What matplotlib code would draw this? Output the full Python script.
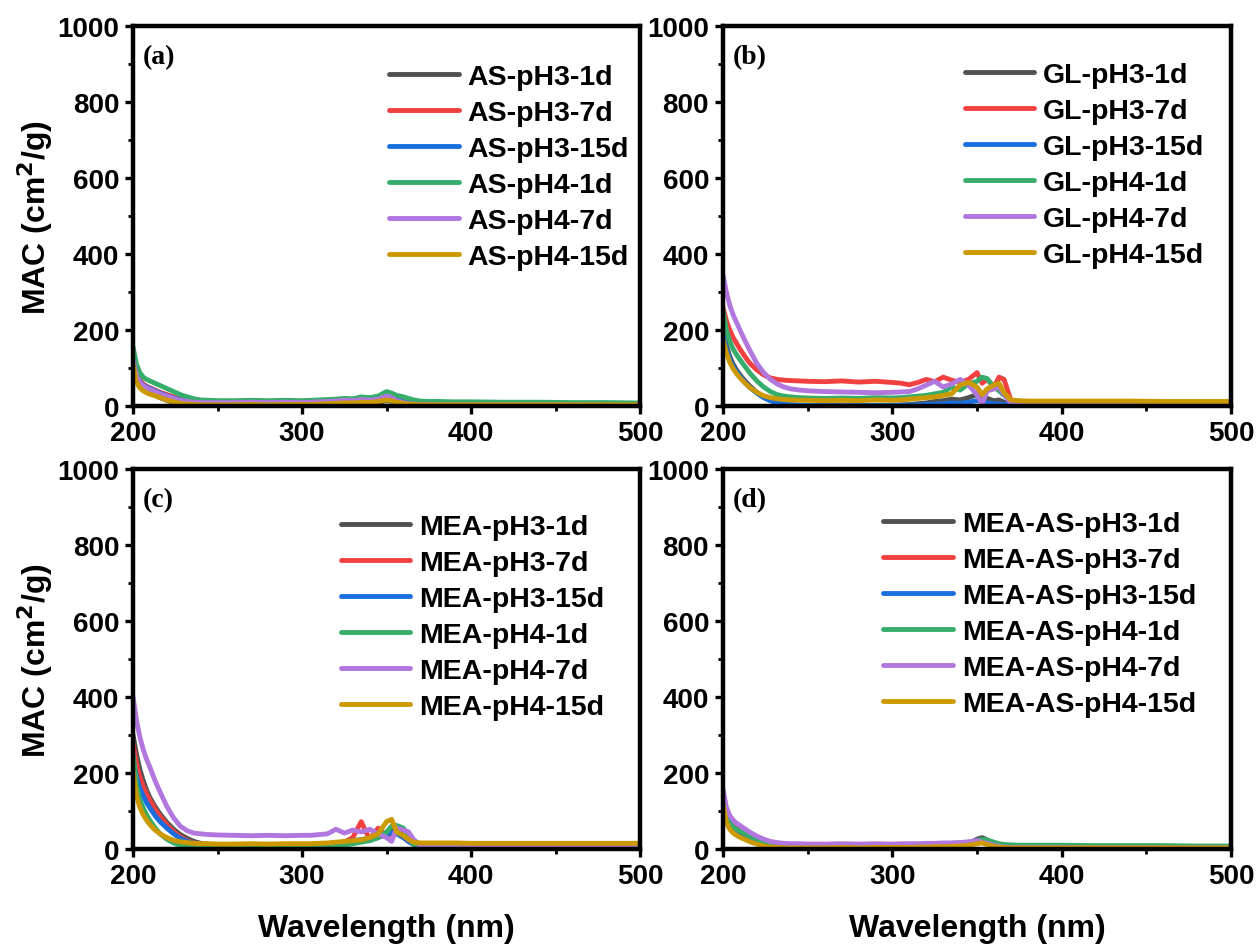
import numpy as np
import matplotlib
matplotlib.use('Agg')
import matplotlib.pyplot as plt
from matplotlib.ticker import MultipleLocator

plt.rcParams['font.family'] = ['Liberation Sans', 'DejaVu Sans']
plt.rcParams['font.weight'] = 'bold'
plt.rcParams['mathtext.default'] = 'bf'

# wavelength grid (nm)
wl = [200, 202, 204, 206, 208, 210, 213, 216, 220, 224, 228, 232, 236, 240, 245, 250,
      260, 270, 280, 290, 300, 305, 310, 315, 320, 325, 330, 335, 340, 345, 350,
      353, 356, 360, 363, 366, 370, 375, 380, 390, 400, 420, 440, 460, 480, 500]

colors = ['#515151', '#F14040', '#1A6FDF', '#37AD6B', '#B177DE', '#CC9900']
suffixes = ['pH3-1d', 'pH3-7d', 'pH3-15d', 'pH4-1d', 'pH4-7d', 'pH4-15d']

# =============================================================================
# (a) AS
# =============================================================================
a_gray = [105, 70, 55, 46, 40, 35, 28, 22, 15, 9, 5, 2, 1, 0, 0, 0, 1, 0, 1, 1, 1,
          2, 2, 3, 4, 5, 6, 8, 7, 9, 14, 12, 8, 5, 4, 3, 2, 2, 2, 2, 2, 1, 1, 1, 1, 1]
a_red = [125, 85, 68, 58, 52, 48, 42, 36, 30, 24, 18, 14, 12, 11, 10, 10, 11, 10, 11, 10, 11,
         12, 13, 14, 15, 18, 16, 20, 17, 22, 28, 32, 20, 14, 10, 8, 6, 5, 5, 5, 4, 4, 4, 3, 3, 3]
a_blue = [115, 80, 64, 55, 50, 46, 40, 34, 27, 21, 16, 13, 11, 10, 10, 10, 10, 11, 10, 11, 10,
          11, 12, 13, 14, 16, 15, 18, 16, 19, 24, 22, 16, 11, 8, 6, 5, 4, 4, 4, 4, 3, 3, 3, 3, 3]
a_green = [155, 110, 88, 76, 70, 66, 60, 54, 46, 38, 30, 24, 19, 16, 15, 14, 14, 15, 14, 15, 14,
           15, 16, 17, 18, 20, 19, 24, 22, 26, 38, 34, 28, 24, 20, 16, 13, 12, 12, 11, 11, 10, 10, 9, 9, 8]
a_purple = [120, 80, 62, 54, 48, 44, 38, 32, 26, 20, 15, 12, 10, 9, 9, 9, 9, 10, 9, 10, 9,
            10, 11, 12, 13, 15, 14, 17, 15, 18, 26, 22, 14, 9, 6, 5, 4, 4, 3, 3, 3, 3, 3, 3, 2, 2]
a_yellow = [110, 62, 48, 40, 35, 31, 27, 22, 16, 11, 7, 5, 4, 3, 3, 3, 3, 4, 3, 4, 4,
            4, 5, 6, 7, 8, 8, 10, 9, 12, 16, 14, 10, 7, 5, 4, 3, 3, 3, 3, 3, 3, 3, 3, 3, 3]

# =============================================================================
# (b) GL
# =============================================================================
b_gray = [200, 160, 130, 110, 95, 82, 66, 52, 36, 24, 15, 9, 5, 3, 2, 1, 1, 2, 1, 2, 2,
          3, 4, 6, 8, 12, 14, 18, 16, 22, 30, 26, 20, 14, 16, 10, 6, 8, 6, 6, 5, 5, 5, 5, 5, 5]
b_red = [260, 225, 200, 180, 165, 150, 130, 112, 95, 82, 74, 70, 68, 67, 66, 65, 64, 66, 63, 65, 62,
         60, 56, 62, 70, 64, 76, 68, 62, 70, 88, 60, 70, 50, 76, 70, 15, 12, 10, 10, 10, 9, 9, 9, 8, 8]
b_blue = [190, 150, 122, 104, 90, 78, 62, 48, 34, 22, 14, 8, 5, 3, 2, 1, 1, 0, 1, 1, 1,
          2, 2, 3, 4, 5, 6, 8, 7, 10, 14, 12, 8, 6, 5, 4, 4, 4, 4, 4, 4, 4, 4, 4, 4, 4]
b_green = [250, 200, 170, 150, 135, 122, 104, 86, 66, 50, 38, 30, 26, 24, 22, 21, 20, 21, 20, 22, 21,
           22, 24, 26, 28, 32, 36, 50, 42, 58, 65, 76, 72, 50, 40, 28, 14, 12, 12, 11, 11, 10, 10, 10, 9, 9]
b_purple = [345, 300, 265, 240, 220, 200, 172, 145, 112, 88, 70, 58, 50, 45, 42, 40, 38, 37, 36, 35, 36,
            37, 38, 45, 55, 65, 50, 58, 70, 55, 30, 5, 40, 45, 50, 30, 8, 8, 8, 7, 7, 7, 7, 7, 6, 6]
b_yellow = [176, 140, 115, 98, 85, 74, 60, 48, 36, 27, 22, 19, 17, 16, 15, 15, 14, 15, 14, 16, 15,
            16, 18, 20, 22, 24, 28, 32, 55, 62, 50, 30, 45, 55, 60, 35, 16, 14, 13, 13, 13, 13, 13, 12, 12, 12]

# =============================================================================
# (c) MEA
# =============================================================================
c_gray = [300, 250, 210, 180, 155, 135, 112, 92, 70, 52, 38, 28, 20, 15, 12, 10, 9, 10, 9, 10, 10,
          10, 11, 12, 14, 16, 18, 22, 24, 30, 40, 45, 55, 40, 25, 15, 10, 10, 10, 10, 10, 10, 10, 10, 10, 10]
c_red = [275, 225, 190, 165, 145, 128, 105, 86, 64, 46, 32, 22, 16, 13, 11, 10, 10, 11, 10, 11, 10,
         11, 12, 14, 16, 18, 30, 72, 25, 55, 35, 40, 45, 30, 20, 12, 8, 7, 7, 7, 7, 7, 7, 7, 7, 7]
c_blue = [235, 190, 160, 140, 122, 108, 88, 72, 55, 40, 28, 20, 15, 12, 10, 9, 9, 10, 9, 10, 10,
          11, 12, 14, 16, 18, 22, 25, 28, 32, 38, 42, 40, 30, 20, 12, 8, 7, 7, 7, 7, 7, 7, 7, 6, 6]
c_green = [250, 170, 130, 108, 90, 75, 56, 40, 26, 16, 10, 6, 4, 3, 3, 3, 3, 4, 3, 4, 4,
           4, 5, 6, 8, 10, 14, 18, 22, 30, 45, 60, 62, 55, 30, 12, 5, 4, 4, 4, 4, 4, 4, 4, 4, 4]
c_purple = [400, 340, 295, 262, 236, 215, 180, 150, 112, 82, 60, 48, 42, 40, 38, 37, 36, 35, 36, 35, 36,
            36, 38, 40, 52, 42, 50, 45, 52, 40, 30, 20, 55, 50, 45, 25, 10, 8, 8, 8, 8, 8, 8, 7, 7, 7]
c_yellow = [205, 140, 110, 90, 76, 64, 50, 40, 30, 23, 19, 17, 15, 14, 14, 13, 13, 14, 13, 14, 14,
            14, 15, 16, 18, 20, 22, 24, 30, 40, 72, 78, 45, 35, 25, 18, 16, 16, 16, 16, 15, 15, 15, 15, 15, 15]

# =============================================================================
# (d) MEA-AS
# =============================================================================
d_gray = [110, 75, 58, 48, 42, 37, 30, 24, 17, 11, 7, 4, 3, 2, 2, 2, 2, 3, 2, 3, 3,
          3, 4, 5, 6, 7, 8, 9, 10, 14, 26, 30, 24, 12, 6, 4, 3, 3, 3, 3, 3, 3, 3, 3, 3, 3]
d_red = [135, 92, 74, 63, 56, 50, 43, 36, 28, 21, 16, 13, 11, 10, 10, 9, 9, 10, 9, 10, 10,
         10, 10, 11, 11, 12, 12, 13, 14, 16, 20, 22, 18, 12, 8, 6, 5, 4, 4, 4, 4, 4, 4, 3, 3, 3]
d_blue = [120, 84, 66, 57, 51, 46, 39, 32, 25, 19, 14, 11, 9, 8, 8, 7, 7, 8, 7, 8, 8,
          8, 8, 9, 9, 10, 10, 11, 12, 14, 18, 20, 16, 10, 7, 5, 4, 4, 4, 4, 4, 4, 3, 3, 3, 3]
d_green = [125, 86, 68, 58, 52, 47, 40, 33, 26, 20, 15, 12, 10, 9, 9, 9, 9, 10, 9, 10, 9,
           10, 11, 12, 13, 14, 14, 15, 16, 18, 22, 25, 24, 18, 14, 12, 11, 10, 10, 10, 10, 9, 9, 9, 8, 8]
d_purple = [158, 110, 88, 76, 68, 62, 53, 44, 34, 26, 20, 17, 15, 14, 14, 13, 13, 14, 13, 14, 13,
            14, 14, 14, 15, 15, 16, 16, 17, 19, 22, 18, 15, 10, 7, 5, 4, 4, 4, 4, 4, 3, 3, 3, 3, 3]
d_yellow = [118, 70, 52, 42, 36, 31, 25, 19, 13, 8, 5, 4, 3, 3, 3, 3, 3, 4, 3, 4, 4,
            4, 4, 5, 5, 6, 6, 7, 8, 10, 14, 16, 12, 7, 5, 4, 3, 3, 3, 3, 3, 3, 3, 3, 3, 3]

panels = [
    ('(a)', 'AS', [a_gray, a_red, a_blue, a_green, a_purple, a_yellow]),
    ('(b)', 'GL', [b_gray, b_red, b_blue, b_green, b_purple, b_yellow]),
    ('(c)', 'MEA', [c_gray, c_red, c_blue, c_green, c_purple, c_yellow]),
    ('(d)', 'MEA-AS', [d_gray, d_red, d_blue, d_green, d_purple, d_yellow]),
]

fig = plt.figure(figsize=(12.6, 9.45), dpi=100)
positions = [[0.1056, 0.5693, 0.4024, 0.4021],
             [0.5738, 0.5693, 0.4032, 0.4021],
             [0.1056, 0.1005, 0.4024, 0.4021],
             [0.5738, 0.1005, 0.4032, 0.4021]]
# legend anchor per panel (axes fraction)
leg_x = [0.978, 0.947, 0.929, 0.931]
leg_y = [0.900, 0.905, 0.881, 0.889]

for i, (tag, prefix, series) in enumerate(panels):
    ax = fig.add_axes(positions[i])
    for ys, c, s in zip(series, colors, suffixes):
        ax.plot(wl, ys, color=c, lw=3.5, label=prefix + '-' + s, solid_capstyle='round')

    ax.set_xlim(200, 500)
    ax.set_ylim(0, 1000)
    ax.xaxis.set_major_locator(MultipleLocator(100))
    ax.xaxis.set_minor_locator(MultipleLocator(50))
    ax.yaxis.set_major_locator(MultipleLocator(200))
    ax.yaxis.set_minor_locator(MultipleLocator(100))
    ax.tick_params(which='major', direction='out', length=6, width=2.4, labelsize=20, pad=4)
    ax.tick_params(which='minor', direction='out', length=3.5, width=2.0)
    for sp in ax.spines.values():
        sp.set_linewidth(3.2)

    ax.text(0.02, 0.92, tag, transform=ax.transAxes, fontsize=20, fontweight='bold',
            family='Liberation Serif', va='center', ha='left')

    ax.legend(loc='upper right', bbox_to_anchor=(leg_x[i], leg_y[i]), frameon=False,
              fontsize=20.5, handlelength=2.45, handletextpad=0.3, labelspacing=0.35,
              borderaxespad=0.0, borderpad=0.0)

    if i % 2 == 0:
        ax.set_ylabel('MAC (cm$^2$/g)', fontsize=23, fontweight='bold', labelpad=2)
    if i >= 2:
        ax.set_xlabel('Wavelength (nm)', fontsize=23, fontweight='bold', labelpad=17)

fig.savefig('out.png', dpi=100)
